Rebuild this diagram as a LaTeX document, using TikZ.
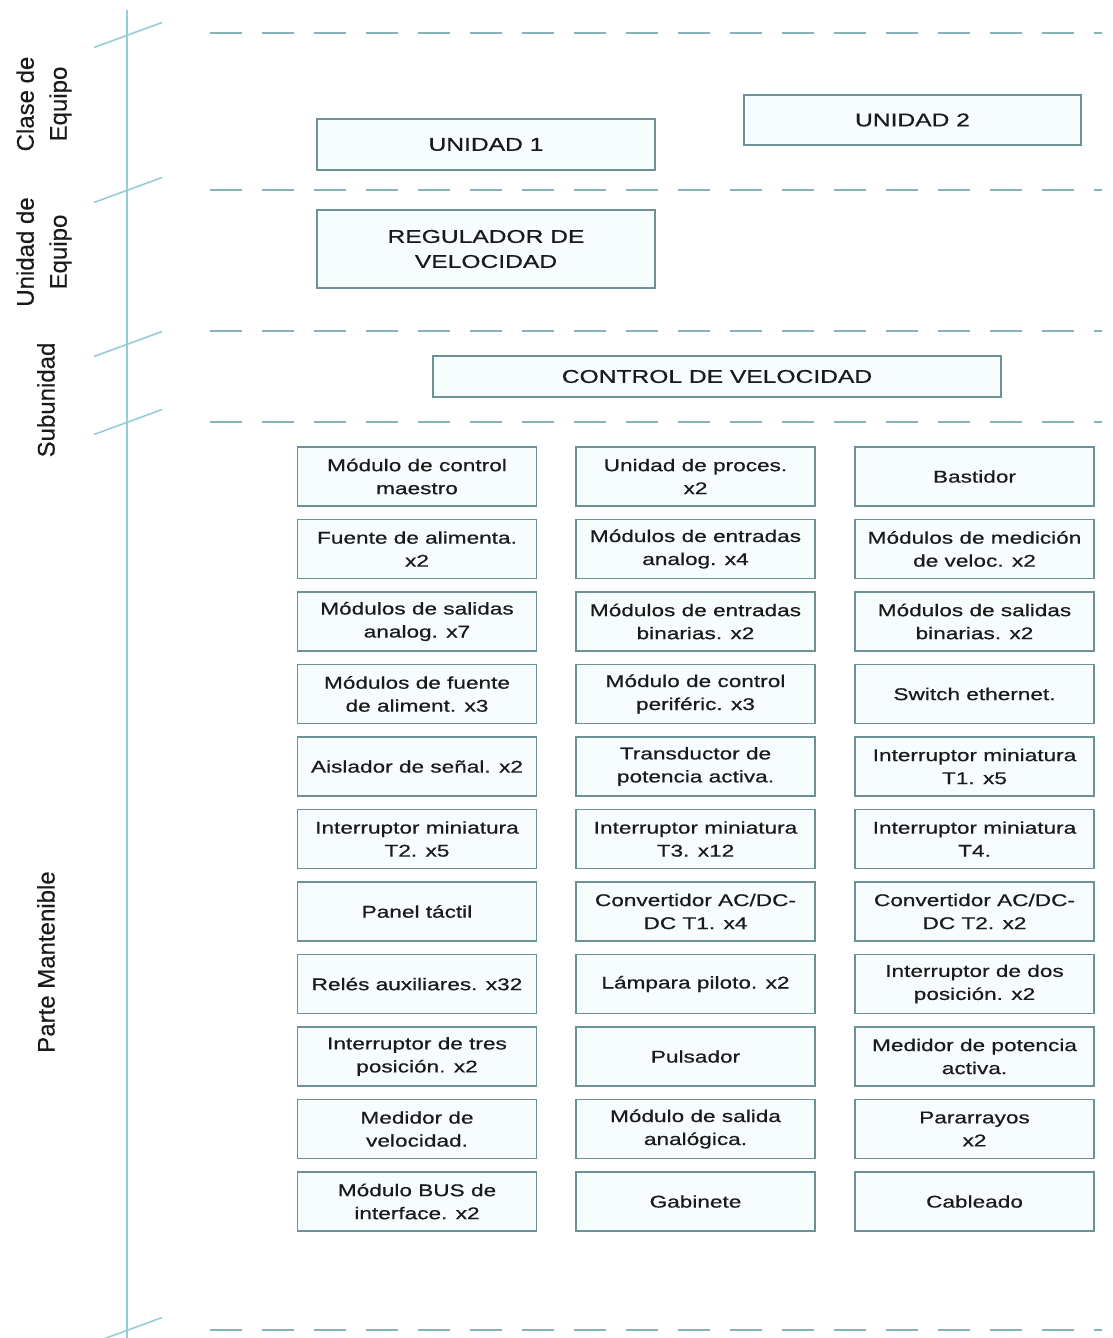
\documentclass[tikz,border=0pt]{standalone}
\usepackage{fontspec}
\setmainfont{Liberation Sans}
\newfontfamily\boxfont[FakeStretch=1.33,FakeBold=0.6]{Liberation Sans}
\newfontfamily\sidefont[FakeBold=0.4]{Liberation Sans}
\definecolor{boxline}{HTML}{6C9296}
\definecolor{boxfill}{HTML}{F7FDFE}
\definecolor{axisline}{HTML}{95CDD5}
\definecolor{levelline}{HTML}{86B3B8}
\definecolor{ink}{HTML}{1A1A1A}
\begin{document}
\begin{tikzpicture}[x=1pt,y=-1pt,
  item/.style={draw=boxline, fill=boxfill, line width=1.4pt, text=ink,
    align=center, inner sep=0pt, minimum width=239pt, minimum height=59pt,
    font=\boxfont\fontsize{17}{23}\selectfont},
  unitbox/.style={draw=boxline, fill=boxfill, line width=1.4pt, text=ink,
    align=center, inner sep=0pt, font=\boxfont\fontsize{18.5}{25}\selectfont},
  level/.style={draw=levelline, line width=1.8pt, dash pattern=on 32pt off 20pt},
  axis/.style={draw=axisline, line width=2.4pt},
  tick/.style={draw=axisline, line width=1.6pt},
  sidelabel/.style={rotate=90, text=ink, align=center,
    font=\sidefont\fontsize{24}{33}\selectfont}]
\useasboundingbox (0,0) rectangle (1112,1338);

% vertical axis
\coordinate (axtop) at (127,10);
\coordinate (axbot) at (127,1338);
\draw[axis] (axtop) -- (axbot);

% slanted ticks on the axis
\foreach \n/\y in {t1/35, t2/190, t3/344, t4/422, t5/1330}{
  \coordinate (\n a) at (94,\y+12.5);
  \coordinate (\n b) at (162,\y-12.5);
  \draw[tick] (\n a) -- (\n b);
}

% dashed level separators
\foreach \n/\y in {l1/33, l2/190, l3/331, l4/422, l5/1330}{
  \coordinate (\n a) at (210,\y);
  \coordinate (\n b) at (1102,\y);
  \draw[level] (\n a) -- (\n b);
}

% level names
\node[sidelabel] (lclase) at (44,104) {Clase de\\Equipo};
\node[sidelabel] (lunidad) at (44,252) {Unidad de\\Equipo};
\node[sidelabel] (lsub) at (46,400) {Subunidad};
\node[sidelabel] (lparte) at (46,962) {Parte Mantenible};

% equipment class / unit / subunit
\node[unitbox, minimum width=338pt, minimum height=51pt] (u1) at (486,144.5) {UNIDAD 1};
\node[unitbox, minimum width=337pt, minimum height=50pt] (u2) at (912.5,120) {UNIDAD 2};
\node[unitbox, minimum width=338pt, minimum height=78pt] (reg) at (486,249) {REGULADOR DE\\VELOCIDAD};
\node[unitbox, minimum width=568pt, minimum height=41pt] (ctl) at (717,376.5) {CONTROL DE VELOCIDAD};

% maintainable parts
\node[item] (p1a) at (417,476.5) {Módulo de control\\maestro};
\node[item] (p1b) at (695.5,476.5) {Unidad de proces.\\x2};
\node[item] (p1c) at (974.5,476.5) {Bastidor};

\node[item] (p2a) at (417,549) {Fuente de alimenta.\\x2};
\node[item] (p2b) at (695.5,549) {Módulos de entradas\\analog. x4};
\node[item] (p2c) at (974.5,549) {Módulos de medición\\de veloc. x2};

\node[item] (p3a) at (417,621.5) {Módulos de salidas\\analog. x7};
\node[item] (p3b) at (695.5,621.5) {Módulos de entradas\\binarias. x2};
\node[item] (p3c) at (974.5,621.5) {Módulos de salidas\\binarias. x2};

\node[item] (p4a) at (417,694) {Módulos de fuente\\de aliment. x3};
\node[item] (p4b) at (695.5,694) {Módulo de control\\periféric. x3};
\node[item] (p4c) at (974.5,694) {Switch ethernet.};

\node[item] (p5a) at (417,766.5) {Aislador de señal. x2};
\node[item] (p5b) at (695.5,766.5) {Transductor de\\potencia activa.};
\node[item] (p5c) at (974.5,766.5) {Interruptor miniatura\\T1. x5};

\node[item] (p6a) at (417,839) {Interruptor miniatura\\T2. x5};
\node[item] (p6b) at (695.5,839) {Interruptor miniatura\\T3. x12};
\node[item] (p6c) at (974.5,839) {Interruptor miniatura\\T4.};

\node[item] (p7a) at (417,911.5) {Panel táctil};
\node[item] (p7b) at (695.5,911.5) {Convertidor AC/DC-\\DC T1. x4};
\node[item] (p7c) at (974.5,911.5) {Convertidor AC/DC-\\DC T2. x2};

\node[item] (p8a) at (417,984) {Relés auxiliares. x32};
\node[item] (p8b) at (695.5,984) {Lámpara piloto. x2};
\node[item] (p8c) at (974.5,984) {Interruptor de dos\\posición. x2};

\node[item] (p9a) at (417,1056.5) {Interruptor de tres\\posición. x2};
\node[item] (p9b) at (695.5,1056.5) {Pulsador};
\node[item] (p9c) at (974.5,1056.5) {Medidor de potencia\\activa.};

\node[item] (p10a) at (417,1129) {Medidor de\\velocidad.};
\node[item] (p10b) at (695.5,1129) {Módulo de salida\\analógica.};
\node[item] (p10c) at (974.5,1129) {Pararrayos\\x2};

\node[item] (p11a) at (417,1201.5) {Módulo BUS de\\interface. x2};
\node[item] (p11b) at (695.5,1201.5) {Gabinete};
\node[item] (p11c) at (974.5,1201.5) {Cableado};
\end{tikzpicture}
\end{document}
